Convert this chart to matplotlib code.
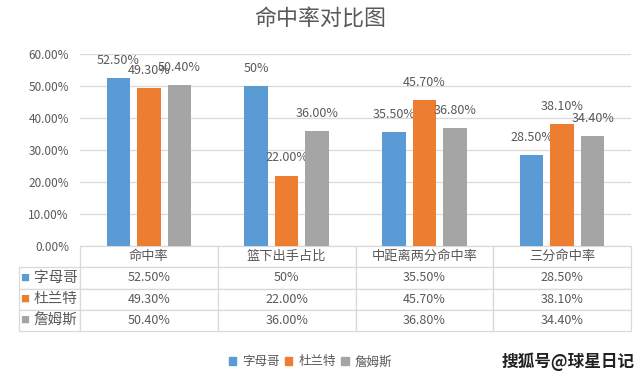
import matplotlib
matplotlib.use('Agg')
import matplotlib.pyplot as plt
from matplotlib.patches import Patch
import numpy as np

plt.rcParams['font.family'] = ['Noto Sans CJK SC', 'DejaVu Sans']

# 数据
categories = ['命中率', '篮下出手占比', '中距离两分命中率', '三分命中率']
players = ['字母哥', '杜兰特', '詹姆斯']
giannis = [52.5, 50.0, 35.5, 28.5]
durant = [49.3, 22.0, 45.7, 38.1]
james = [50.4, 36.0, 36.8, 34.4]
labels_giannis = ['52.50%', '50%', '35.50%', '28.50%']
labels_durant = ['49.30%', '22.00%', '45.70%', '38.10%']
labels_james = ['50.40%', '36.00%', '36.80%', '34.40%']
colors = ['#5B9BD5', '#ED7D31', '#A5A5A5']

txt_color = '#595959'
grid_color = '#D9D9D9'

fig = plt.figure(figsize=(6.4, 3.77), dpi=100)
ax = fig.add_axes([0.125, 0.3475, 0.861, 0.5093])

x = np.arange(len(categories))
width = 0.17
step = 0.221
series = [giannis, durant, james]
labels = [labels_giannis, labels_durant, labels_james]
for i, (vals, labs) in enumerate(zip(series, labels)):
    vals = np.array(vals) / 100
    bars = ax.bar(x + (i - 1) * step, vals, width, color=colors[i], zorder=3)
    for b, lab in zip(bars, labs):
        ax.annotate(lab, (b.get_x() + b.get_width() / 2, b.get_height()),
                    xytext=(0, 8), textcoords='offset points',
                    ha='center', va='bottom', fontsize=9, color=txt_color)

ax.set_xlim(-0.5, len(categories) - 0.5)
ax.set_ylim(0, 0.6)
ax.set_yticks(np.arange(0, 0.61, 0.1))
ax.set_yticklabels(['%.2f%%' % (v * 100) for v in np.arange(0, 0.61, 0.1)],
                   fontsize=8.5, color=txt_color)
ax.tick_params(axis='y', length=0, pad=8)
ax.set_xticks([])
ax.grid(axis='y', color=grid_color, linewidth=0.9, zorder=0)
for s in ax.spines.values():
    s.set_visible(False)

fig.text(0.5, 0.947, '命中率对比图', ha='center', va='center',
         fontsize=15.8, color=txt_color)

# 数据表
cell_text = [[''] + categories]
for p, labs in zip(players, labels):
    cell_text.append([p] + labs)
ax_w_px = 551.0
lab_w = 61.0 / ax_w_px
tbl_h = 0.443
tbl = ax.table(cellText=cell_text, cellLoc='center',
               colWidths=[lab_w] + [1.0 / len(categories)] * len(categories),
               bbox=[-lab_w, -tbl_h, 1 + lab_w, tbl_h])
tbl.auto_set_font_size(False)
for (r, c), cell in tbl.get_celld().items():
    cell.set_edgecolor(grid_color)
    cell.set_linewidth(0.9)
    cell.get_text().set_color(txt_color)
    cell.get_text().set_fontsize(9)
    if r == 0 and c == 0:
        cell.visible_edges = ''
    if c == 0 and r > 0:
        cell.PAD = 0.04
        cell.get_text().set_fontsize(10.5)
        cell.get_text().set_ha('right')
        cell._loc = 'right'
    if r == 0 and c > 0:
        cell.get_text().set_fontsize(9.5)

row_h = tbl_h / 4
for i, col in enumerate(colors):
    yc = -row_h * (i + 1.5)
    ax.text(-lab_w + 0.002, yc, '■', color=col, fontsize=6.5,
            ha='left', va='center', transform=ax.transAxes)

handles = [Patch(color=c) for c in colors]
fig.legend(handles, players, loc='center', bbox_to_anchor=(0.485, 0.04),
           ncol=3, frameon=False, fontsize=9, handlelength=0.6,
           handleheight=0.6, handletextpad=0.5, columnspacing=0.4,
           labelcolor=txt_color)

fig.text(0.992, 0.04, '搜狐号@球星日记', ha='right', va='center',
         fontsize=12, fontweight='bold', color='#222222')

fig.savefig('out.png', dpi=100)
